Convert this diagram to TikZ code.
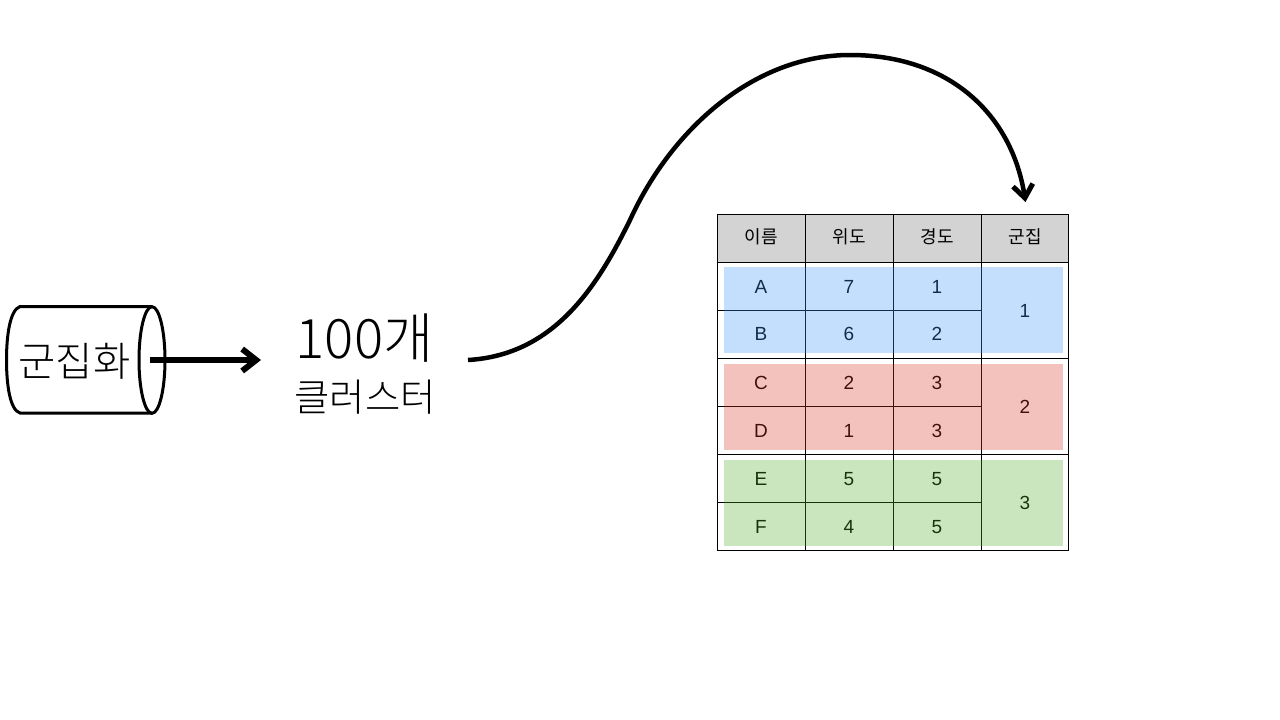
\documentclass[tikz,border=0pt]{standalone}
\usepackage{fontspec}
\usetikzlibrary{arrows.meta}
\setmainfont{Liberation Sans}
\newfontfamily\kor{Noto Sans CJK KR}
\newfontfamily\korlight{Noto Sans CJK KR Light}
\definecolor{blueov}{RGB}{57,150,247}
\definecolor{redov}{RGB}{220,53,33}
\definecolor{greenov}{RGB}{77,173,40}
\definecolor{headgray}{RGB}{211,211,211}
\tikzset{
  x=1pt,y=-1pt,
  cell/.style={font=\fontsize{19}{19}\selectfont,inner sep=0pt,anchor=center},
  headtxt/.style={font=\kor\fontsize{18}{18}\selectfont,inner sep=0pt,anchor=center},
  grid/.style={draw=black,line width=1.2pt},
  ov/.style={fill=#1,fill opacity=.3,draw=none},
  heavy/.style={draw=black,line width=3pt},
  bigtxt/.style={font=\korlight\fontsize{#1}{#1}\selectfont,inner sep=0pt,anchor=center},
}
\begin{document}
\begin{tikzpicture}
\useasboundingbox (0,0) rectangle (1280,720);
% cylinder
\draw[heavy,line join=round] (152,306.5) -- (20,306.5) .. controls (10,310) and (6.5,335) .. (6.5,360) .. controls (6.5,385) and (10,410) .. (20,413) -- (152,413);
\draw[heavy] (152,360) ellipse [x radius=13,y radius=53.3];
\node[bigtxt=40.5] (cyl) at (74.5,361) {군집화};
\coordinate (cylout) at (150,360);
% labels
\node[bigtxt=54.5] (count) at (364.5,338) {100개};
\node[bigtxt=38.4] (cluster) at (365,397) {클러스터};
\coordinate (curvestart) at (468,360);
% table header
\fill[headgray] (717.5,214.5) rectangle (1068.5,262.5);
% table grid
\draw[grid] (717.5,214.5) rectangle (1068.5,550.5);
\foreach \yy in {262.5,358.5,454.5} \draw[grid] (717.5,\yy) -- (1068.5,\yy);
\foreach \yy in {310.5,406.5,502.5} \draw[grid] (717.5,\yy) -- (981.5,\yy);
\foreach \xx in {805.5,893.5,981.5} \draw[grid] (\xx,214.5) -- (\xx,550.5);
% header text
\node[headtxt] (h1) at (761,236.5) {이름};
\node[headtxt] (h2) at (849,236.5) {위도};
\node[headtxt] (h3) at (937,236.5) {경도};
\node[headtxt] (h4) at (1025,236.5) {군집};
% cells
\node[cell] (a1) at (761,286.5) {A};
\node[cell] (a2) at (849,286.5) {7};
\node[cell] (a3) at (937,286.5) {1};
\node[cell] (b1) at (761,334) {B};
\node[cell] (b2) at (849,334) {6};
\node[cell] (b3) at (937,334) {2};
\node[cell] (c1) at (761,383) {C};
\node[cell] (c2) at (849,383) {2};
\node[cell] (c3) at (937,383) {3};
\node[cell] (d1) at (761,431) {D};
\node[cell] (d2) at (849,431) {1};
\node[cell] (d3) at (937,431) {3};
\node[cell] (e1) at (761,479) {E};
\node[cell] (e2) at (849,479) {5};
\node[cell] (e3) at (937,479) {5};
\node[cell] (f1) at (761,527) {F};
\node[cell] (f2) at (849,527) {4};
\node[cell] (f3) at (937,527) {5};
\node[cell] (g1) at (1025,310.5) {1};
\node[cell] (g2) at (1025,407) {2};
\node[cell] (g3) at (1025,503) {3};
% overlays
\path[ov=blueov] (724,267) rectangle (1063,353);
\path[ov=redov] (724,364) rectangle (1063,450);
\path[ov=greenov] (724,460) rectangle (1063,546);
% connectors
\coordinate (arrowend) at (261,360);
\coordinate (tabletop) at (1025.5,202);
\draw[line width=5.5pt,-{Straight Barb[length=14pt,width=22pt,line width=6pt]}] (cylout) -- (arrowend);
\draw[line width=4.5pt,-{Straight Barb[length=13pt,width=20pt,line width=5pt]}] (curvestart) .. controls (555,355) and (598,285) .. (630,220) .. controls (672,128) and (755,55) .. (850,55) .. controls (950,55) and (1012,115) .. (tabletop);
\end{tikzpicture}
\end{document}
